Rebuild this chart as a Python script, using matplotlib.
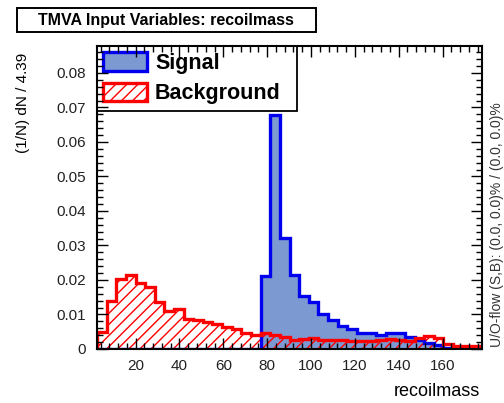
import numpy as np
import matplotlib
matplotlib.use('Agg')
import matplotlib.pyplot as plt
from matplotlib.patches import Rectangle
from matplotlib.ticker import MultipleLocator, FuncFormatter

plt.rcParams['font.family'] = ['Liberation Sans', 'DejaVu Sans']
plt.rcParams['hatch.linewidth'] = 1.0

xmin = 2.4
binWidth = 4.39
nBins = 40

signal = [0, 0, 0, 0, 0, 0, 0, 0, 0, 0,
          0, 0, 0, 0, 0, 0, 0, 0.0212, 0.0677, 0.0322,
          0.0215, 0.0155, 0.0137, 0.0100, 0.0085, 0.0068, 0.0058, 0.0046, 0.0045, 0.0040,
          0.0047, 0.0046, 0.0036, 0.0026, 0.0017, 0.0012, 0.0004, 0, 0, 0]

background = [0.0050, 0.0139, 0.0202, 0.0214, 0.0190, 0.0179, 0.0137, 0.0111, 0.0115, 0.0086,
              0.0084, 0.0079, 0.0071, 0.0065, 0.0057, 0.0045, 0.0040, 0.0046, 0.0042, 0.0034,
              0.0026, 0.0028, 0.0032, 0.0027, 0.0025, 0.0027, 0.0024, 0.0024, 0.0022, 0.0027,
              0.0030, 0.0026, 0.0024, 0.0033, 0.0038, 0.0032, 0.0015, 0.0009, 0.0009, 0.0009]

xticks = [20, 40, 60, 80, 100, 120, 140, 160]
labels = ['Signal', 'Background']
varName = 'recoilmass'

edges = xmin + binWidth * np.arange(nBins + 1)

sigFill = '#7d99d1'
sigLine = '#0000ee'
bkgLine = '#ff0000'

fig = plt.figure(figsize=(5.04, 4.03), dpi=100)
ax = fig.add_axes([97 / 504, 54 / 403, 385 / 504, 303 / 403])

# fills first, then outlines on top
ax.stairs(signal, edges, fill=True, facecolor=sigFill, edgecolor='none', zorder=1)
ax.stairs(background, edges, fill=True, facecolor='none', edgecolor=bkgLine,
          hatch='///', linewidth=0, zorder=1.2)
ax.stairs(signal, edges, color=sigLine, linewidth=2.4, zorder=1.4)
ax.stairs(background, edges, color=bkgLine, linewidth=2.4, zorder=1.6)

ax.set_xlim(edges[0], edges[-1])
ax.set_ylim(0, 0.0878)

ax.set_xticks(xticks)
ax.xaxis.set_minor_locator(MultipleLocator(4))
ax.yaxis.set_major_locator(MultipleLocator(0.01))
ax.yaxis.set_minor_locator(MultipleLocator(0.002))
ax.yaxis.set_major_formatter(FuncFormatter(lambda v, p: '0' if abs(v) < 1e-9 else '%.2f' % v))

ax.tick_params(which='both', direction='in', top=True, right=True, width=1.0,
               labelsize=11, labelcolor='#222222')
ax.tick_params(which='major', length=8)
ax.tick_params(which='minor', length=4)
ax.tick_params(axis='x', pad=7)
ax.tick_params(axis='y', pad=8)
for s in ax.spines.values():
    s.set_linewidth(1.5)
ax.set_axisbelow(False)

# legend built from proxy patches so both handles match the histograms
h1 = Rectangle((0, 0), 1, 1, facecolor=sigFill, edgecolor=sigLine, linewidth=2.4)
h2 = Rectangle((0, 0), 1, 1, facecolor='white', edgecolor=bkgLine, hatch='///', linewidth=2.4)
leg = ax.legend([h1, h2], labels, loc='upper left', bbox_to_anchor=(0, 0.5, 200 / 385, 0.5),
                mode='expand', borderaxespad=0,
                fancybox=False, framealpha=1, edgecolor='black',
                prop={'weight': 'bold', 'size': 15.5},
                handlelength=2.0, handleheight=0.95, handletextpad=0.4,
                labelspacing=0.4, borderpad=0.3)
leg.get_frame().set_linewidth(1.3)
leg.set_zorder(2)

# title box
fig.patches.append(Rectangle((17 / 504, 1 - 32 / 403), 299 / 504, 24 / 403,
                             transform=fig.transFigure, facecolor='white',
                             edgecolor='black', linewidth=1.4))
fig.text(166 / 504, 1 - 20 / 403, 'TMVA Input Variables: ' + varName,
         ha='center', va='center', fontsize=11.5, fontweight='bold')

fig.text(23 / 504, 1 - 53 / 403, '(1/N) dN / %.2f' % binWidth, rotation=90,
         ha='center', va='top', fontsize=11)
fig.text(480 / 504, 1 - 392 / 403, varName, ha='right', va='center', fontsize=13)
fig.text(497 / 504, 1 - 347 / 403, 'U/O-flow (S,B): (0.0, 0.0)% / (0.0, 0.0)%',
         rotation=90, ha='center', va='bottom', fontsize=10, color='#333333')

fig.savefig('out.png', dpi=100)
